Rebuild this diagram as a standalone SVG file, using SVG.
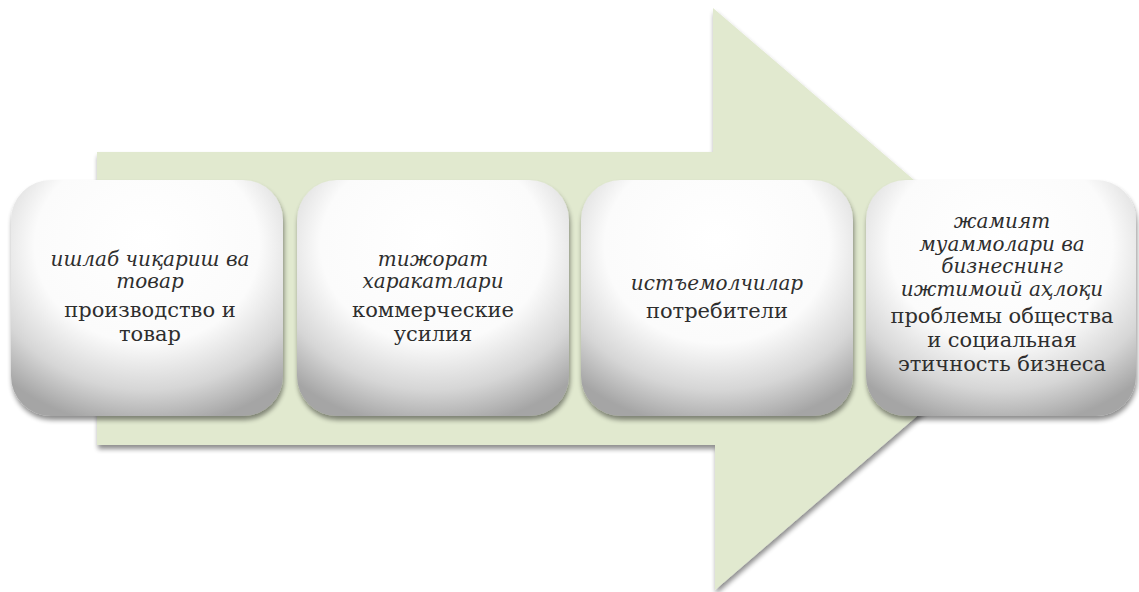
<svg xmlns="http://www.w3.org/2000/svg" width="1139" height="592" viewBox="0 0 1139 592">
  <defs>
    <style>
      .it { font-family: "DejaVu Serif", "Liberation Serif", serif; font-style: italic; font-size: 20px; fill: #2e2e2e; text-anchor: middle; }
      .rg { font-family: "DejaVu Serif", "Liberation Serif", serif; font-size: 21px; fill: #2e2e2e; text-anchor: middle; }
      .card { fill: url(#metal); }
    </style>
    <radialGradient id="metal" cx="0.5" cy="0.3" r="0.75" fx="0.5" fy="0.25">
      <stop offset="0" stop-color="#ffffff"/>
      <stop offset="0.55" stop-color="#fbfbfb"/>
      <stop offset="0.8" stop-color="#d6d6d6"/>
      <stop offset="1" stop-color="#a5a5a5"/>
    </radialGradient>
    <filter id="shadow" x="-10%" y="-10%" width="120%" height="125%">
      <feGaussianBlur in="SourceAlpha" stdDeviation="2.5"/>
      <feOffset dx="1" dy="4" result="b"/>
      <feComponentTransfer><feFuncA type="linear" slope="0.45"/></feComponentTransfer>
      <feMerge><feMergeNode/><feMergeNode in="SourceGraphic"/></feMerge>
    </filter>
  </defs>

  <rect width="1139" height="592" fill="#ffffff"/>

  <!-- big background arrow -->
  <g id="arrow">
    <path d="M97 152 L713 152 L713 8 L1053 299 L715 590 L715 445 L97 445 Z" fill="#e1e9cf" filter="url(#shadow)"/>
  </g>

  <g id="node1">
    <rect class="card" x="11" y="180" width="272" height="236" rx="40" filter="url(#shadow)"/>
    <text class="it" x="150" y="266">ишлаб чиқариш ва</text>
    <text class="it" x="150" y="288">товар</text>
    <text class="rg" x="150" y="317">производство и</text>
    <text class="rg" x="150" y="341">товар</text>
  </g>

  <g id="node2">
    <rect class="card" x="297" y="180" width="272" height="236" rx="40" filter="url(#shadow)"/>
    <text class="it" x="433" y="266">тижорат</text>
    <text class="it" x="433" y="288">харакатлари</text>
    <text class="rg" x="433" y="317">коммерческие</text>
    <text class="rg" x="433" y="341">усилия</text>
  </g>

  <g id="node3">
    <rect class="card" x="581" y="180" width="272" height="236" rx="40" filter="url(#shadow)"/>
    <text class="it" x="717" y="290">истъемолчилар</text>
    <text class="rg" x="717" y="318">потребители</text>
  </g>

  <g id="node4">
    <rect class="card" x="866" y="180" width="270" height="236" rx="40" filter="url(#shadow)"/>
    <text class="it" x="1002" y="228">жамият</text>
    <text class="it" x="1002" y="251">муаммолари ва</text>
    <text class="it" x="1002" y="273">бизнеснинг</text>
    <text class="it" x="1002" y="296">ижтимоий аҳлоқи</text>
    <text class="rg" x="1002" y="323">проблемы общества</text>
    <text class="rg" x="1002" y="347">и социальная</text>
    <text class="rg" x="1002" y="371">этичность бизнеса</text>
  </g>

  <g id="connectors"></g>
</svg>
